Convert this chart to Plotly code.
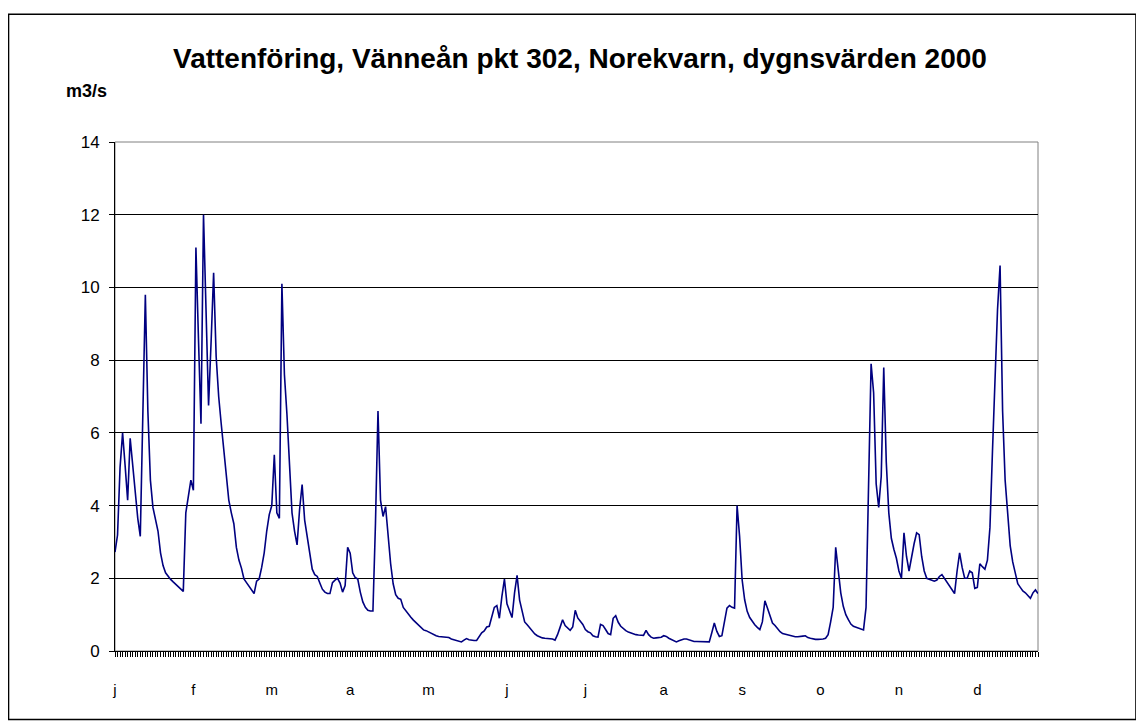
import plotly.graph_objects as go

# Daily discharge values (m3/s), day 0 .. 365 of year 2000
flow = [
    2.72, 3.19, 5.05, 6.0, 5.1, 4.15, 5.85, 5.1, 4.3, 3.65,
    3.15, 6.5, 9.8, 6.6, 4.7, 3.95, 3.6, 3.3, 2.7, 2.35,
    2.15, 2.05, 1.97, 1.9, 1.84, 1.77, 1.7, 1.64, 3.8, 4.2,
    4.7, 4.42, 11.1, 8.6, 6.25, 12.0, 9.4, 6.75, 8.5, 10.4,
    8.1, 7.0, 6.25, 5.6, 4.8, 4.15, 3.8, 3.5, 2.85, 2.5,
    2.28, 1.98, 1.88, 1.78, 1.68, 1.58, 1.92, 1.98, 2.3, 2.7,
    3.3, 3.75, 4.0, 5.4, 3.8, 3.65, 10.1, 7.6, 6.5, 5.0,
    3.8, 3.3, 2.92, 3.9, 4.58, 3.6, 3.1, 2.7, 2.25, 2.1,
    2.05, 1.87, 1.7, 1.62, 1.58, 1.58, 1.88, 1.95, 2.0, 1.87,
    1.62, 1.8, 2.85, 2.69, 2.15, 2.02, 1.98, 1.62, 1.35, 1.2,
    1.12, 1.1, 1.1, 3.5, 6.6, 4.15, 3.7, 3.97, 3.1, 2.4,
    1.85, 1.55, 1.45, 1.42, 1.2, 1.1, 1.0, 0.93, 0.85, 0.78,
    0.7, 0.63, 0.58, 0.56, 0.52, 0.48, 0.45, 0.42, 0.40, 0.39,
    0.38, 0.38, 0.37, 0.33, 0.31, 0.30, 0.27, 0.25, 0.30, 0.34,
    0.31, 0.29, 0.29, 0.29, 0.4, 0.5, 0.55, 0.66, 0.68, 0.95,
    1.2, 1.25, 0.9, 1.5, 1.98, 1.3, 1.1, 0.92, 1.6, 2.08,
    1.4, 1.05, 0.8, 0.72, 0.63, 0.55, 0.47, 0.42, 0.38, 0.36,
    0.35, 0.35, 0.35, 0.33, 0.30, 0.45, 0.65, 0.86, 0.7, 0.64,
    0.57, 0.66, 1.12, 0.91, 0.82, 0.73, 0.59, 0.53, 0.5, 0.42,
    0.39, 0.38, 0.73, 0.70, 0.59, 0.48, 0.45, 0.9, 0.97, 0.79,
    0.68, 0.61, 0.56, 0.52, 0.49, 0.47, 0.45, 0.44, 0.43, 0.43,
    0.57, 0.45, 0.38, 0.35, 0.36, 0.37, 0.38, 0.42, 0.40, 0.35,
    0.31, 0.28, 0.25, 0.28, 0.31, 0.33, 0.33, 0.30, 0.27, 0.26,
    0.26, 0.26, 0.25, 0.25, 0.25, 0.25, 0.5, 0.77, 0.54, 0.4,
    0.42, 0.86, 1.18, 1.25, 1.2, 1.18, 4.0, 3.15, 1.96, 1.41,
    1.09, 0.92, 0.8, 0.72, 0.65, 0.59, 0.8, 1.38, 1.18, 0.95,
    0.77, 0.7, 0.6, 0.53, 0.48, 0.46, 0.45, 0.42, 0.4, 0.39,
    0.39, 0.39, 0.41, 0.42, 0.37, 0.35, 0.33, 0.32, 0.32, 0.32,
    0.33, 0.35, 0.45, 0.8, 1.2, 2.85, 2.24, 1.6, 1.23, 1.0,
    0.86, 0.74, 0.68, 0.65, 0.62, 0.6, 0.58, 1.2, 4.6, 7.9,
    7.1, 4.6, 3.95, 4.8, 7.8, 5.2, 3.8, 3.1, 2.8, 2.55,
    2.2, 2.0, 3.25, 2.6, 2.2, 2.6, 2.95, 3.25, 3.2, 2.6,
    2.2, 2.0, 1.97, 1.96, 1.92, 1.95, 2.05, 2.1, 2.0, 1.9,
    1.8, 1.68, 1.58, 2.2, 2.7, 2.3, 2.0, 2.0, 2.2, 2.15,
    1.72, 1.75, 2.4, 2.32, 2.25, 2.5, 3.4, 5.5, 7.5, 9.4,
    10.6, 6.6, 4.7, 3.7, 2.9, 2.45, 2.15, 1.85, 1.75, 1.65,
    1.6, 1.52, 1.45, 1.6, 1.68, 1.58,
]
days = list(range(len(flow)))

# Excel shows a label every 31 categories
month_pos = [0, 31, 62, 93, 124, 155, 186, 217, 248, 279, 310, 341]
month_labels = ["j", "f", "m", "a", "m", "j", "j", "a", "s", "o", "n", "d"]
y_ticks = [0, 2, 4, 6, 8, 10, 12, 14]

title = "Vattenföring, Vänneån pkt 302, Norekvarn, dygnsvärden 2000"
unit = "m3/s"

FONT = "Arial, 'Liberation Sans', sans-serif"

fig = go.Figure()
fig.add_trace(go.Scatter(
    x=days, y=flow, mode="lines",
    line=dict(color="#000080", width=1.6),
    showlegend=False, hoverinfo="x+y",
))

# The page body has an 8px margin; window pixel = figure pixel + 8
OFF = 8
W, H = 1144 - OFF, 727 - OFF
L = 114.5 - OFF
T = 142 - OFF
R = W - (1038 - OFF)
B = H - (651.5 - OFF)
pw = W - L - R
ph = H - T - B

def px_to_paper_x(px):  # px in window coordinates
    return (px - OFF - L) / pw

def px_to_paper_y(py):
    return (H - B - (py - OFF)) / ph

fig.update_layout(
    width=W, height=H, autosize=False,
    margin=dict(l=L, r=R, t=T, b=B, pad=0),
    paper_bgcolor="white", plot_bgcolor="white",
    font=dict(family=FONT, color="black"),
    xaxis=dict(
        range=[0, len(flow) - 1],
        tickmode="array", tickvals=month_pos, ticktext=month_labels,
        ticks="outside", ticklen=5, tickcolor="black", tickwidth=1,
        tickfont=dict(size=15),
        ticklabelstandoff=20,
        minor=dict(ticks="outside", tick0=0, dtick=1, ticklen=5,
                   tickcolor="black", tickwidth=1, showgrid=False),
        showline=True, linecolor="black", linewidth=1,
        showgrid=False, zeroline=False, fixedrange=True,
    ),
    yaxis=dict(
        range=[0, 14], tickmode="array", tickvals=y_ticks,
        ticks="outside", ticklen=5, tickcolor="black",
        tickfont=dict(size=17),
        ticklabelstandoff=6,
        showline=True, linecolor="black", linewidth=1,
        showgrid=True, gridcolor="#000000", gridwidth=1,
        zeroline=False, fixedrange=True,
    ),
)

# plot-area border (gray top/right)
fig.add_shape(type="rect", xref="paper", yref="paper", x0=0, x1=1, y0=0, y1=1,
              line=dict(color="#808080", width=1), layer="below")
# outer chart border
fig.add_shape(type="rect", xref="paper", yref="paper",
              x0=px_to_paper_x(8), x1=px_to_paper_x(1136),
              y0=px_to_paper_y(720), y1=px_to_paper_y(14),
              line=dict(color="black", width=1.5))

fig.add_annotation(text="<b>" + title + "</b>", xref="paper", yref="paper",
                   x=px_to_paper_x(580), y=px_to_paper_y(58),
                   xanchor="center", yanchor="middle", showarrow=False,
                   font=dict(size=28, family=FONT, color="black"))
fig.add_annotation(text="<b>" + unit + "</b>", xref="paper", yref="paper",
                   x=px_to_paper_x(86), y=px_to_paper_y(91),
                   xanchor="center", yanchor="middle", showarrow=False,
                   font=dict(size=18, family=FONT, color="black"))

fig.write_html("out.html")
